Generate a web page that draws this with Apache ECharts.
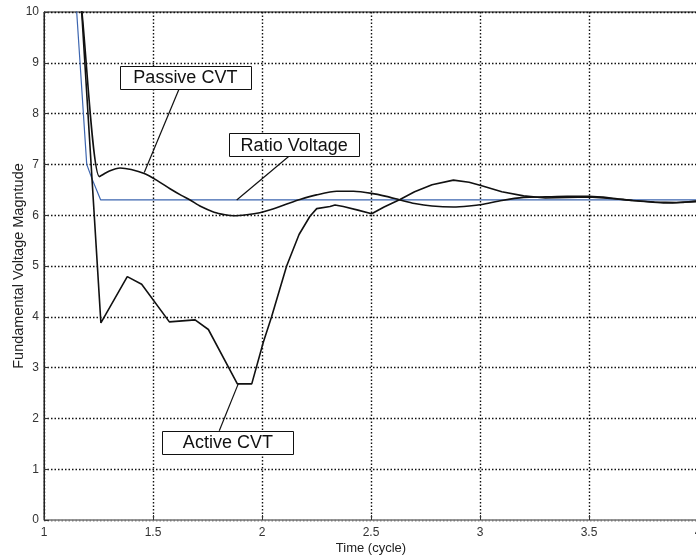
<!DOCTYPE html>
<html>
<head>
<meta charset="utf-8">
<script src="https://cdn.jsdelivr.net/npm/echarts@6/dist/echarts.min.js"></script>
<style>
html,body{margin:0;padding:0;background:#fff;}
#chart{width:696px;height:558px;}
</style>
</head>
<body>
<div id="chart"></div>
<script>
// ---- data ----
const ratioTime    = [1.12, 1.15, 1.196, 1.219, 1.26, 4.0];
const ratioVoltage = [12.0, 10.0, 7.00, 6.73, 6.30, 6.30];

const passiveTime = [1.12, 1.174, 1.254, 1.30, 1.349, 1.40, 1.46, 1.52, 1.578, 1.63, 1.67, 1.72, 1.78, 1.83, 1.87, 1.93, 1.99, 2.05, 2.12, 2.174, 2.25, 2.343, 2.42, 2.503, 2.57, 2.633, 2.70, 2.78, 2.878, 2.95, 3.008, 3.10, 3.20, 3.30, 3.40, 3.50, 3.60, 3.70, 3.78, 3.85, 3.92, 4.0];
const passiveCVT  = [12.2, 10.0, 6.76, 6.87, 6.93, 6.90, 6.82, 6.68, 6.52, 6.39, 6.30, 6.17, 6.06, 6.01, 5.99, 6.01, 6.05, 6.12, 6.23, 6.31, 6.40, 6.47, 6.47, 6.43, 6.37, 6.30, 6.23, 6.18, 6.16, 6.18, 6.21, 6.29, 6.35, 6.36, 6.37, 6.37, 6.34, 6.29, 6.26, 6.24, 6.25, 6.28];

const activeTime = [1.14, 1.173, 1.261, 1.382, 1.448, 1.575, 1.693, 1.754, 1.887, 1.953, 2.006, 2.044, 2.113, 2.17, 2.22, 2.251, 2.312, 2.335, 2.373, 2.44, 2.503, 2.56, 2.633, 2.70, 2.78, 2.878, 2.95, 3.008, 3.10, 3.20, 3.30, 3.40, 3.50, 3.60, 3.70, 3.80, 3.90, 4.0];
const activeCVT  = [12.3, 10.0, 3.88, 4.79, 4.64, 3.90, 3.94, 3.75, 2.68, 2.68, 3.50, 4.00, 5.00, 5.62, 5.98, 6.13, 6.17, 6.20, 6.17, 6.10, 6.03, 6.16, 6.31, 6.46, 6.60, 6.69, 6.65, 6.58, 6.46, 6.38, 6.34, 6.35, 6.36, 6.33, 6.29, 6.26, 6.25, 6.27];

const xTicks = [1, 1.5, 2, 2.5, 3, 3.5, 4];
const yTicks = [0, 1, 2, 3, 4, 5, 6, 7, 8, 9, 10];

// annotation callouts, in data coordinates
const annotLabels = ['Passive CVT', 'Ratio Voltage', 'Active CVT'];
const annotBoxes  = [[1.349, 8.943, 1.948, 8.498], [1.850, 7.612, 2.445, 7.165], [1.543, 1.758, 2.144, 1.313]];
const annotFrom   = [[1.621, 8.498], [2.125, 7.165], [1.804, 1.758]];
const annotTo     = [[1.460, 6.84], [1.884, 6.30], [1.891, 2.68]];

const zip = (xs, ys) => xs.map((x, i) => [x, ys[i]]);
const FONT = 'Liberation Sans, Arial, Helvetica, sans-serif';

const chart = echarts.init(document.getElementById('chart'), null, {renderer: 'canvas'});

const option = {
  animation: false,
  backgroundColor: '#fff',
  grid: {left: 44, top: 12, width: 654, height: 508, show: true, borderColor: '#111', borderWidth: 1,
         backgroundColor: 'transparent', containLabel: false, outerBoundsMode: 'none'},
  xAxis: {
    type: 'value', min: xTicks[0], max: xTicks[xTicks.length - 1], interval: 0.5,
    name: 'Time (cycle)', nameLocation: 'middle', nameGap: 22, nameMoveOverlap: false,
    nameTextStyle: {color: '#222', fontSize: 13, fontFamily: FONT},
    axisLine: {show: true, lineStyle: {color: '#9a9a9a', width: 1.5}},
    axisTick: {show: true, inside: true, length: 5, lineStyle: {color: '#333'}},
    axisLabel: {color: '#333', fontSize: 12, fontFamily: FONT, margin: 7, hideOverlap: false},
    splitLine: {show: true, lineStyle: {color: '#111', width: 1.4, type: [1.5, 2]}}
  },
  yAxis: {
    type: 'value', min: yTicks[0], max: yTicks[yTicks.length - 1], interval: 1,
    name: 'Fundamental Voltage Magntude', nameLocation: 'middle', nameGap: 18, nameMoveOverlap: false,
    nameTextStyle: {color: '#222', fontSize: 14.5, fontFamily: FONT},
    axisLine: {show: true, lineStyle: {color: '#222', width: 1}},
    axisTick: {show: true, inside: true, length: 5, lineStyle: {color: '#333'}},
    axisLabel: {color: '#333', fontSize: 12, fontFamily: FONT, margin: 5},
    splitLine: {show: true, lineStyle: {color: '#111', width: 1.4, type: [1.5, 2]}}
  },
  series: [
    {name: 'Ratio Voltage', type: 'line', data: zip(ratioTime, ratioVoltage), showSymbol: false, clip: true,
     lineStyle: {color: '#3d66b0', width: 1.2}},
    {name: 'Passive CVT', type: 'line', data: zip(passiveTime, passiveCVT), showSymbol: false, clip: true,
     smooth: 0.25, lineStyle: {color: '#111', width: 1.6}},
    {name: 'Active CVT', type: 'line', data: zip(activeTime, activeCVT), showSymbol: false, clip: true,
     lineStyle: {color: '#111', width: 1.6}}
  ]
};
chart.setOption(option);

const px = p => chart.convertToPixel({gridIndex: 0}, p);
const elements = [];
annotLabels.forEach((label, i) => {
  const a = px(annotFrom[i]), b = px(annotTo[i]);
  elements.push({type: 'line', z: 100, shape: {x1: a[0], y1: a[1], x2: b[0], y2: b[1]}, style: {stroke: '#111', lineWidth: 1.2}});
  const tl = px([annotBoxes[i][0], annotBoxes[i][1]]), br = px([annotBoxes[i][2], annotBoxes[i][3]]);
  elements.push({type: 'rect', z: 101, shape: {x: Math.round(tl[0]) + 0.5, y: Math.round(tl[1]) + 0.5, width: Math.round(br[0] - tl[0]), height: Math.round(br[1] - tl[1])},
    style: {fill: '#fff', stroke: '#111', lineWidth: 1}});
  elements.push({type: 'text', z: 102, x: (tl[0] + br[0]) / 2, y: (tl[1] + br[1]) / 2 + 1,
    style: {text: label, fill: '#111', font: '18px ' + FONT, align: 'center', verticalAlign: 'middle'}});
});
chart.setOption({graphic: {elements: elements}});
</script>
</body>
</html>
